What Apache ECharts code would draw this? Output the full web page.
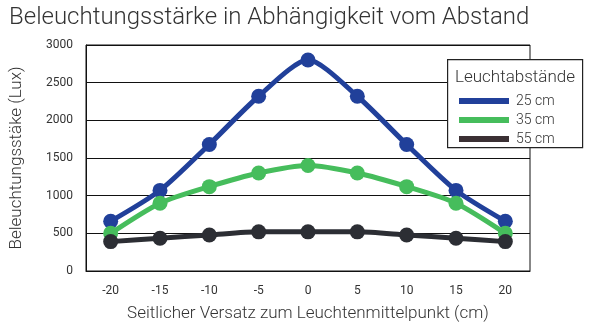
<!DOCTYPE html>
<html><head><meta charset="utf-8">
<script src="https://cdn.jsdelivr.net/npm/echarts@6/dist/echarts.min.js"></script>
<style>html,body{margin:0;padding:0;background:#fff}#c{width:591px;height:327px}</style>
</head><body><div id="c"></div>
<script>
const categories = ['-20','-15','-10','-5','0','5','10','15','20'];
const s25 = [660,1070,1680,2320,2800,2320,1680,1070,660];
const s35 = [500,900,1120,1300,1400,1300,1120,900,500];
const s55 = [390,435,478,520,520,520,478,435,390];
const seriesNames = ['25 cm','35 cm','55 cm'];
const colors = ['#21409a','#46bd5c','#2c2e34'];
const legendColors = ['#21409a','#46bd5c','#3b3034'];
const font = 'Roboto';
const chart = echarts.init(document.getElementById('c'));
function mk(name, data, i){
  return {name, type:'line', data, smooth:0.25, symbol:'circle', symbolSize:15,
    lineStyle:{width:5,color:colors[i]}, itemStyle:{color:colors[i]}, z: 2 + i};
}
chart.setOption({
  animation:false,
  title:{text:'Beleuchtungsstärke in Abhängigkeit vom Abstand', left:4, top:1,
    textStyle:{fontFamily:font, fontWeight:300, fontSize:24, color:'#333'}},
  grid:{left:85, right:61, top:45, bottom:55, show:true, borderColor:'#111', borderWidth:1},
  xAxis:{type:'category', data:categories, boundaryGap:true,
    axisLine:{lineStyle:{color:'#111'}}, axisTick:{show:false},
    axisLabel:{fontFamily:font, fontSize:12, color:'#333', margin:14},
    name:'Seitlicher Versatz zum Leuchtenmittelpunkt (cm)', nameLocation:'middle', nameGap:34,
    nameTextStyle:{fontFamily:font, fontWeight:300, fontSize:17, color:'#333'}},
  yAxis:{type:'value', min:0, max:3000, interval:500,
    axisLine:{show:true, lineStyle:{color:'#111'}}, axisTick:{show:false},
    splitLine:{lineStyle:{color:'#111', width:1}},
    axisLabel:{fontFamily:font, fontSize:12, color:'#333', margin:13, formatter:v=>String(v)},
    name:'Beleuchtungsstäke (Lux)', nameLocation:'middle', nameGap:61,
    nameTextStyle:{fontFamily:font, fontWeight:300, fontSize:17, color:'#333'}},
  legend:{orient:'vertical', left:459, top:94, padding:0, itemWidth:50, itemHeight:6, itemGap:5, z:20,
    icon:'rect', data:seriesNames.map((n,i)=>({name:n, itemStyle:{color:legendColors[i]}})),
    textStyle:{fontFamily:font, fontWeight:300, fontSize:14, color:'#333', padding:[0,0,0,2]}},
  graphic:[
    {type:'rect', left:447, top:59, z:15, shape:{width:135, height:88},
     style:{fill:'#fff', stroke:'#222', lineWidth:1.2}},
    {type:'text', left:455, top:69, z:16, style:{text:'Leuchtabstände', font:'300 17px Roboto', fill:'#333'}}
  ],
  series:[mk(seriesNames[0],s25,0), mk(seriesNames[1],s35,1), mk(seriesNames[2],s55,2)]
});
</script></body></html>
